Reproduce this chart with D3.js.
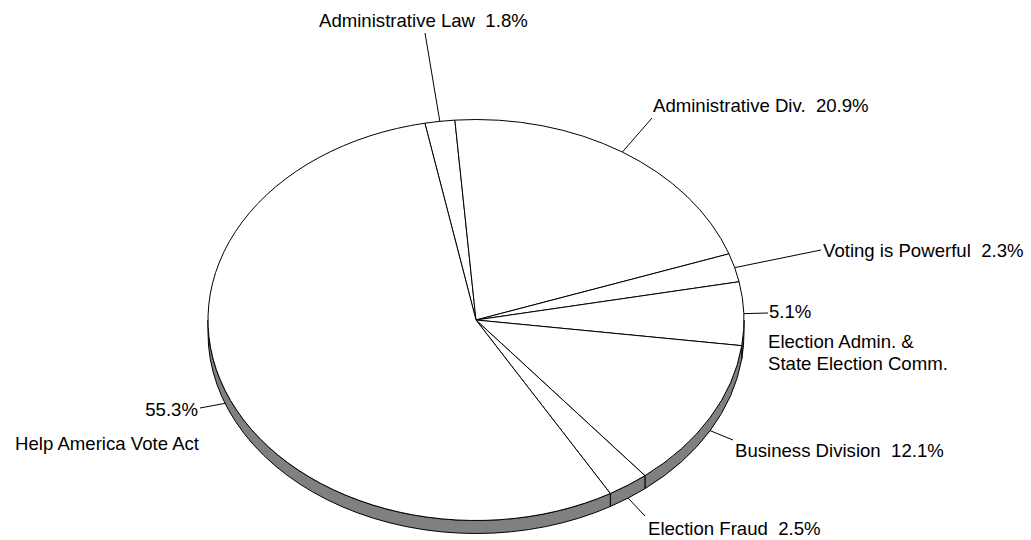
<!DOCTYPE html>
<meta charset="utf-8">
<style>
body { margin: 0; background: #fff; }
svg { display: block; font-family: "Liberation Sans", Arial, sans-serif; }
.slice { fill: #fff; stroke: #000; stroke-width: 1px; vector-effect: non-scaling-stroke; }
.side { fill: #808080; stroke: #000; stroke-width: 1px; }
.lead { stroke: #000; stroke-width: 1px; fill: none; }
text { font-size: 18.6px; fill: #000; white-space: pre; }
</style>
<body>
<svg width="1031" height="540"></svg>
<script src="https://d3js.org/d3.v7.min.js"></script>
<script>

// data
var names = ["Administrative Law", "Administrative Div.", "Voting is Powerful",
             "Election Admin. & State Election Comm.", "Business Division",
             "Election Fraud", "Help America Vote Act"];
var values = [1.8, 20.9, 2.3, 5.1, 12.1, 2.5, 55.3];

// label placement (text end of the leader, text lines)
var labelPos = [
  { end: [425, 33],  lines: [["Administrative Law  1.8%", 319, 27, "start"]] },
  { end: [652, 118], lines: [["Administrative Div.  20.9%", 653, 112, "start"]] },
  { end: [821, 250], lines: [["Voting is Powerful  2.3%", 823, 257, "start"]] },
  { end: [768, 313], lines: [["5.1%", 769, 318, "start"], ["Election Admin. &", 768, 348, "start"], ["State Election Comm.", 768, 370, "start"]] },
  { end: [733, 440], lines: [["Business Division  12.1%", 735, 457, "start"]] },
  { end: [645, 516], lines: [["Election Fraud  2.5%", 648, 535, "start"]] },
  { end: [200, 408], lines: [["55.3%", 198, 416, "end"], ["Help America Vote Act", 199, 450, "end"]] }
];

var svg = d3.select("svg");
var cx = 476, cy = 320, rx = 268, ry = 200.5, depth = 13;
var deg = Math.PI / 180;

var pie = d3.pie().sort(null).value(function(d) { return d; })
    .startAngle(-11 * deg).endAngle(349 * deg);
var arcs = pie(values);

function pt(a, dy) {
  return [cx + rx * Math.sin(a), cy - ry * Math.cos(a) + (dy || 0)];
}

// side band, only the front half (pi/2 .. 3pi/2) is seen
var sideG = svg.append("g");
arcs.forEach(function(d) {
  var a0 = Math.max(d.startAngle, Math.PI / 2), a1 = Math.min(d.endAngle, 3 * Math.PI / 2);
  if (a1 <= a0) return;
  var p0 = pt(a0), p1 = pt(a1), q0 = pt(a0, depth), q1 = pt(a1, depth);
  var big = (a1 - a0) > Math.PI ? 1 : 0;
  var dstr = "M" + p0 + "A" + rx + "," + ry + " 0 " + big + " 1 " + p1 +
             "L" + q1 + "A" + rx + "," + ry + " 0 " + big + " 0 " + q0 + "Z";
  sideG.append("path").attr("class", "side").attr("d", dstr);
});

// top face
var arc = d3.arc().innerRadius(0).outerRadius(ry);
svg.append("g")
    .attr("transform", "translate(" + cx + "," + cy + ") scale(" + (rx / ry) + ",1)")
  .selectAll("path")
  .data(arcs)
  .enter().append("path")
    .attr("class", "slice")
    .attr("d", arc);

// labels and leaders
arcs.forEach(function(d, i) {
  var mid = (d.startAngle + d.endAngle) / 2;
  var m = ((mid % (2 * Math.PI)) + 2 * Math.PI) % (2 * Math.PI);
  var front = m > Math.PI / 2 && m < 3 * Math.PI / 2;
  var a = pt(mid, front ? depth : 0);
  var L = labelPos[i];
  svg.append("line").attr("class", "lead")
      .attr("x1", a[0]).attr("y1", a[1])
      .attr("x2", L.end[0]).attr("y2", L.end[1]);
  L.lines.forEach(function(t) {
    svg.append("text")
        .attr("x", t[1]).attr("y", t[2])
        .attr("text-anchor", t[3])
        .text(t[0]);
  });
});

</script>
</body>
